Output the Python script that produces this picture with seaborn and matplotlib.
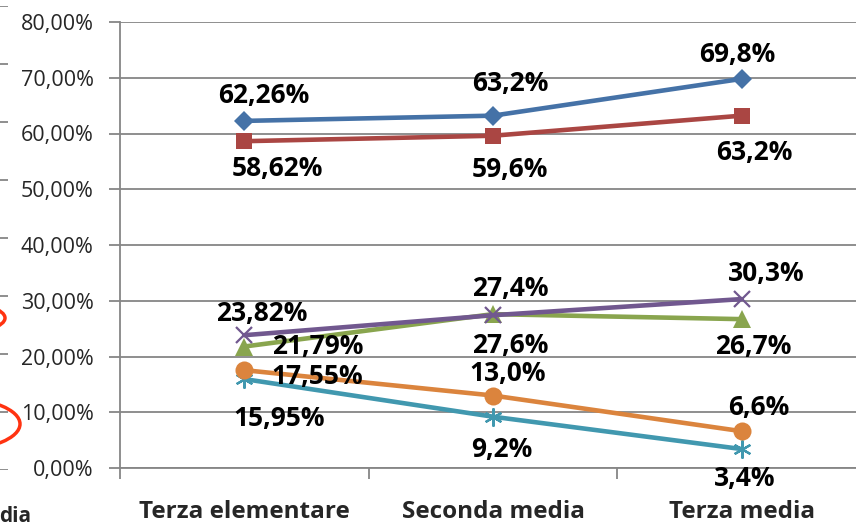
import matplotlib
matplotlib.use('Agg')
import matplotlib.pyplot as plt
import seaborn as sns
import pandas as pd
from matplotlib.patches import Ellipse

# dati
categorie = ['Terza elementare', 'Seconda media', 'Terza media']
decimali = [2, 1, 1]

blu = [62.26, 63.2, 69.8]
rosso = [58.62, 59.6, 63.2]
verde = [21.79, 27.6, 26.7]
viola = [23.82, 27.4, 30.3]
azzurro = [15.95, 9.2, 3.4]
arancio = [17.55, 13.0, 6.6]

y_ticks = [0, 10, 20, 30, 40, 50, 60, 70, 80]

# stile delle serie: (valori, colore, marker, dimensione marker, spostamento etichette in px)
serie = [
    (blu, '#4572A7', 'D', 10, [(19, 25), (17, 32), (-4, 24)]),
    (rosso, '#AA4643', 's', 12, [(33, -27), (17, -34), (13, -37)]),
    (verde, '#89A54E', '^', 13, [(73, 0), (17, -31), (12, -27)]),
    (viola, '#71588F', 'x', 12, [(17, 22), (17, 27), (25, 26)]),
    (azzurro, '#4198AF', (6, 2, 0), 13, [(35, -39), (9, -33), (3, -29)]),
    (arancio, '#DB843D', 'o', 13, [(73, -6), (15, 22), (17, 24)]),
]

sns.set_style('white')
plt.rcParams['font.family'] = ['Open Sans', 'DejaVu Sans']

fig = plt.figure(figsize=(8.56, 5.27), dpi=100)
W, H = 856, 527

# pezzo del grafico a sinistra (tagliato)
ax0 = fig.add_axes([-300 / W, (H - 470) / H, 308 / W, 464 / H])
ax0.set_ylim(0, 80)
ax0.set_xlim(0, 1)
for v in y_ticks:
    ax0.axhline(v, color='#868686', lw=1.3)
ax0.axis('off')
fig.patches.append(Ellipse((-40 / W, (H - 318) / H), 90 / W, 30 / H, transform=fig.transFigure,
                           fill=False, edgecolor='#FF3311', lw=2.5))
fig.patches.append(Ellipse((-45 / W, (H - 424) / H), 130 / W, 52 / H, transform=fig.transFigure,
                           fill=False, edgecolor='#FF3311', lw=2.5))
fig.text(31 / W, (H - 516) / H, 'dia', ha='right', va='center', fontsize=15, fontweight='bold')

# grafico principale
ax = fig.add_axes([120 / W, (H - 468) / H, 746 / W, 446 / H])
ax.set_xlim(-0.5, 2.5)
ax.set_ylim(0, 80)

for valori, colore, marker, ms, offs in serie:
    df = pd.DataFrame({'x': [0, 1, 2], 'y': valori})
    mew = 1.6 if marker in ('x', (6, 2, 0)) else 0
    sns.lineplot(data=df, x='x', y='y', ax=ax, color=colore, marker=marker, markersize=ms,
                 markeredgewidth=mew, markeredgecolor=colore, linewidth=3.3, zorder=3)
    for i, v in enumerate(valori):
        testo = f'{v:.{decimali[i]}f}%'.replace('.', ',')
        ax.annotate(testo, (i, v), xytext=offs[i], textcoords='offset pixels',
                    ha='center', va='center', fontsize=19, fontweight='bold', color='black',
                    zorder=5)

ax.set_yticks(y_ticks)
ax.set_yticklabels([f'{v:.2f}%'.replace('.', ',') for v in y_ticks], fontsize=15.5)
ax.yaxis.grid(True, color='#868686', lw=1.3)
ax.set_axisbelow(True)

ax.set_xticks([-0.5, 0.5, 1.5, 2.5])
ax.set_xticklabels([])
ax.set_xticks([0, 1, 2], minor=True)
ax.set_xticklabels(categorie, minor=True, fontsize=17.5, fontweight='bold')
ax.tick_params(axis='x', which='minor', length=0, pad=23)
ax.tick_params(axis='x', which='major', length=8, color='#868686', width=1.3, direction='out')
ax.tick_params(axis='y', length=8, color='#868686', width=1.3, direction='out', pad=11)
ax.tick_params(bottom=True, left=True)

for s in ['top', 'right']:
    ax.spines[s].set_visible(False)
for s in ['left', 'bottom']:
    ax.spines[s].set_color('#868686')
    ax.spines[s].set_linewidth(1.3)
ax.set_xlabel('')
ax.set_ylabel('')

fig.savefig('out.png', dpi=100)
